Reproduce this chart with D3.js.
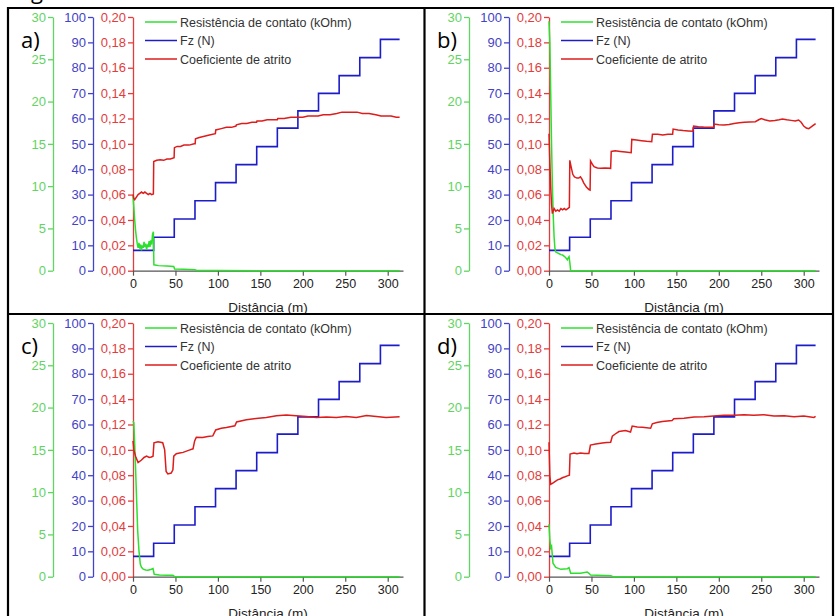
<!DOCTYPE html>
<html>
<head>
<meta charset="utf-8">
<script src="https://cdn.jsdelivr.net/npm/d3@7"></script>
<style>
body { margin: 0; background: #fff; }
svg { display: block; font-family: "Liberation Sans", Arial, sans-serif; }
</style>
</head>
<body>
<div id="plot"></div>
<script>
// Fz (N) steps, same for all four tests
var fzDist = [0, 24.3, 48.6, 73, 97.2, 121.4, 145.7, 170, 194.2, 218.5, 242.8, 267.1, 291.4, 314];
var fzForce = [8, 13.2, 20.4, 27.6, 34.7, 41.8, 48.9, 56.2, 63, 69.9, 76.9, 84, 91.2, 91.2];

var xTicks = [0, 50, 100, 150, 200, 250, 300];
var greenTicks = [0, 5, 10, 15, 20, 25, 30];
var blueTicks = [0, 10, 20, 30, 40, 50, 60, 70, 80, 90, 100];
var redTicks = [0, 0.02, 0.04, 0.06, 0.08, 0.10, 0.12, 0.14, 0.16, 0.18, 0.20];
var panelLabels = ["a)", "b)", "c)", "d)"];
var legendNames = ["Resistência de contato (kOhm)", "Fz (N)", "Coeficiente de atrito"];

// resistencia de contato (kOhm) [distancia, valor]
var resA = [[0,8.8],[1,7.5],[2,6.0],[3,4.8],[4,3.9],[5,3.2],[6,2.7],[7,3.3],[8,2.6],[9,3.1],[10,2.4],[11,3.0],[12,2.7],[13,3.4],[14,2.8],[15,3.2],[16,2.5],[17,3.0],[18,2.9],[19,3.5],[20,2.8],[21,3.6],[22,3.1],[23,4.3],[24,4.6],[24.6,0.7],[30,0.6],[40,0.55],[48,0.5],[49,0.2],[60,0.18],[73,0.12],[75,0.03],[100,0.02],[150,0],[314,0]];
var resB = [[0,29.5],[1,27],[2,21],[3,15],[4,10],[5,6.5],[6,4],[7,2.6],[8,2.2],[10,2.1],[12,2.0],[14,1.9],[16,1.85],[18,1.7],[20,1.5],[21.6,1.3],[22.5,1.5],[23.6,1.65],[24.5,1.0],[25.5,0],[314,0]];
var resC = [[0,18.4],[1,18.2],[2.7,13.8],[4,9.9],[5.5,5.5],[7,3.1],[8.6,1.5],[10,1.1],[12,0.9],[15,0.8],[17.7,0.76],[21.6,0.88],[23.6,0.96],[25,0.28],[31,0.2],[40,0.18],[47,0.16],[49,0],[314,0]];
var resD = [[0,6.2],[1,4.4],[2,3.4],[3,3.6],[4.7,1.6],[8,1.1],[14,0.87],[21.6,0.95],[23.6,1.07],[25.5,0.4],[37,0.4],[45,0.56],[47,0.4],[49,0.2],[73,0.12],[75,0],[314,0]];

// coeficiente de atrito [distancia, valor]
var cofA = [[0,0.060],[1,0.057],[2,0.056],[4,0.058],[6,0.060],[8,0.061],[10,0.062],[12,0.061],[14,0.062],[16,0.061],[18,0.060],[20,0.061],[22,0.060],[24,0.0605],[24.4,0.086],[28,0.087],[32,0.0875],[36,0.087],[40,0.088],[44,0.088],[48.4,0.089],[48.8,0.097],[52,0.098],[56,0.098],[60,0.099],[66,0.099],[72,0.100],[73.2,0.100],[73.6,0.104],[78,0.105],[84,0.106],[90,0.107],[97,0.108],[97.5,0.111],[104,0.112],[110,0.113],[116,0.113],[121.3,0.114],[121.8,0.115],[128,0.116],[134,0.116],[140,0.117],[145.6,0.117],[146,0.118],[152,0.118],[158,0.119],[164,0.119],[170,0.119],[170.5,0.120],[178,0.120],[186,0.121],[194,0.121],[200,0.121],[206,0.122],[212,0.122],[218,0.122],[224,0.123],[232,0.123],[240,0.124],[246,0.125],[252,0.125],[258,0.125],[264,0.125],[270,0.124],[278,0.124],[286,0.123],[292,0.122],[298,0.122],[304,0.122],[310,0.121],[314,0.121]];
var cofB = [[0,0.108],[1,0.085],[2,0.066],[3,0.052],[4,0.045],[5,0.047],[6,0.049],[8,0.047],[10,0.048],[12,0.047],[14,0.049],[16,0.048],[18,0.049],[20,0.048],[22,0.049],[24,0.050],[24.5,0.087],[26,0.082],[28,0.076],[30,0.074],[33,0.073],[35,0.073],[37,0.074],[39,0.072],[41,0.069],[44,0.066],[47,0.064],[48.4,0.0636],[48.9,0.0865],[51,0.084],[53,0.082],[57,0.081],[61,0.0807],[66,0.081],[72.6,0.0807],[73.3,0.094],[78,0.0945],[84,0.094],[90,0.0935],[96.8,0.093],[97.5,0.1035],[103,0.103],[109,0.1025],[115,0.102],[121,0.1017],[121.8,0.1075],[128,0.1075],[134,0.107],[140,0.1075],[145.6,0.1075],[146.2,0.1117],[152,0.111],[158,0.1105],[164,0.1102],[169.6,0.110],[170.3,0.114],[176,0.1135],[182,0.1132],[188,0.113],[194,0.113],[194.6,0.1156],[200,0.115],[206,0.1148],[212,0.1152],[218,0.116],[224,0.1167],[230,0.117],[236,0.1172],[243,0.1175],[247,0.119],[250,0.120],[254,0.119],[260,0.118],[266,0.1185],[271,0.119],[275,0.1196],[280,0.119],[285,0.1185],[290,0.118],[294,0.1188],[297,0.117],[300,0.114],[303,0.1125],[306,0.112],[310,0.114],[314,0.116]];
var cofC = [[0,0.107],[1,0.100],[3,0.095],[6,0.090],[10,0.092],[13,0.094],[16,0.095],[19,0.094],[21.6,0.0944],[23.6,0.095],[24.7,0.1056],[29.4,0.1064],[35,0.1056],[37.3,0.100],[39,0.083],[41,0.081],[45,0.0817],[47,0.0843],[48,0.095],[51,0.097],[55,0.0975],[59,0.098],[63,0.099],[67,0.100],[70.7,0.1008],[72.6,0.107],[74.6,0.110],[82,0.1098],[88,0.1105],[94,0.111],[97.4,0.1157],[104,0.117],[110,0.1176],[120,0.119],[122,0.122],[133.5,0.1237],[145,0.1247],[157,0.1255],[169,0.1269],[180.6,0.1274],[192,0.1269],[204,0.1263],[216,0.1255],[228,0.1258],[239.5,0.1255],[251,0.1263],[263,0.1255],[275,0.127],[286.6,0.1263],[298,0.1255],[314,0.126]];
var cofD = [[0,0.106],[1,0.0795],[2,0.0728],[4,0.0736],[7,0.075],[10,0.0763],[13,0.077],[15.7,0.078],[19,0.0788],[21.6,0.0795],[24,0.080],[24.8,0.0967],[29.4,0.0975],[33,0.097],[37,0.0975],[42,0.0972],[47,0.0972],[48.8,0.1038],[55,0.1046],[62.8,0.1054],[68,0.1058],[72.6,0.106],[74.6,0.1107],[78,0.1125],[82.4,0.1144],[90,0.1152],[96,0.114],[98,0.1187],[104,0.118],[110,0.1179],[119.7,0.1171],[121.7,0.1205],[127,0.1215],[133.5,0.1224],[145,0.1232],[147,0.1245],[159,0.125],[170.8,0.1258],[182.6,0.126],[194,0.1266],[206,0.1272],[218,0.1272],[229.7,0.1277],[241,0.1272],[253,0.1277],[265,0.1266],[277,0.1269],[288.6,0.1261],[300,0.1266],[312,0.1256],[314,0.1264]];

var panels = [
  { label: panelLabels[0], cx: 8, cy: 8, res: resA, cof: cofA },
  { label: panelLabels[1], cx: 424, cy: 8, res: resB, cof: cofB },
  { label: panelLabels[2], cx: 8, cy: 314, res: resC, cof: cofC },
  { label: panelLabels[3], cx: 424, cy: 314, res: resD, cof: cofD }
];

var green = "#2ee02e", greenAx = "#62d462";
var blue = "#1c1cc8", blueAx = "#4343c6";
var red = "#dd1c1c", redAx = "#e23c3c";

var W = 835, H = 616;
var svg = d3.select("#plot").append("svg")
  .attr("width", W)
  .attr("height", H);

svg.append("rect").attr("width", W).attr("height", H).attr("fill", "#fff");

// caption cut off at top
svg.append("text")
  .attr("x", 14).attr("y", -1)
  .style("font-family", "'Open Sans', sans-serif")
  .style("font-size", "22px")
  .text("Figura 29:");

var comma = function(v) { return d3.format(".2f")(v).replace(".", ","); };

function yAxis(g, scale, ticks, minors, xpos, col, fmt) {
  var ax = g.append("g").attr("transform", "translate(" + xpos + ",0)");
  ax.call(d3.axisLeft(scale).tickValues(minors).tickSize(3).tickSizeOuter(0).tickFormat(""));
  ax.call(d3.axisLeft(scale).tickValues(ticks).tickSize(5).tickSizeOuter(0).tickPadding(2).tickFormat(fmt));
  ax.selectAll("path, line").attr("stroke", col).attr("stroke-width", 1.3);
  ax.selectAll("text").attr("fill", col).style("font-size", "13px").style("font-family", "'Liberation Sans', Arial, sans-serif");
}

function MakeIt(p) {
  var g = svg.append("g").attr("transform", "translate(" + p.cx + "," + p.cy + ")");
  var top = 9, bot = 262.7;
  var x = d3.scaleLinear().domain([0, 318]).range([125, 395]);
  var yG = d3.scaleLinear().domain([0, 30]).range([bot, top]);
  var yB = d3.scaleLinear().domain([0, 100]).range([bot, top]);
  var yR = d3.scaleLinear().domain([0, 0.2]).range([bot, top]);

  yAxis(g, yG, greenTicks, [2.5, 7.5, 12.5, 17.5, 22.5, 27.5], 45, greenAx, d3.format("d"));
  yAxis(g, yB, blueTicks, [5, 15, 25, 35, 45, 55, 65, 75, 85, 95], 85, blueAx, d3.format("d"));
  yAxis(g, yR, redTicks, [0.01, 0.03, 0.05, 0.07, 0.09, 0.11, 0.13, 0.15, 0.17, 0.19], 125, redAx, comma);

  var xa = g.append("g").attr("transform", "translate(0," + bot + ")");
  xa.call(d3.axisBottom(x).tickValues([25, 75, 125, 175, 225, 275]).tickSize(3).tickSizeOuter(0).tickFormat(""));
  xa.call(d3.axisBottom(x).tickValues(xTicks).tickSize(5).tickSizeOuter(0).tickPadding(3));
  xa.selectAll("path, line").attr("stroke", "#555").attr("stroke-width", 1.2);
  xa.selectAll("text").attr("fill", "#222").style("font-size", "12.5px").style("font-family", "'Liberation Sans', Arial, sans-serif");

  g.append("text")
    .attr("x", 260).attr("y", 304)
    .attr("text-anchor", "middle")
    .attr("fill", "#222")
    .style("font-size", "13.5px")
    .text("Distância (m)");

  // Fz steps
  var fz = fzDist.map(function(d, i) { return [d, fzForce[i]]; });
  g.append("path")
    .datum(fz)
    .attr("fill", "none")
    .attr("stroke", blue)
    .attr("stroke-width", 1.6)
    .attr("d", d3.line().curve(d3.curveStepAfter).x(function(d) { return x(d[0]); }).y(function(d) { return yB(d[1]); }));

  g.append("path")
    .datum(p.res)
    .attr("fill", "none")
    .attr("stroke", green)
    .attr("stroke-width", 1.5)
    .attr("d", d3.line().x(function(d) { return x(d[0]); }).y(function(d) { return yG(d[1]); }));

  g.append("path")
    .datum(p.cof)
    .attr("fill", "none")
    .attr("stroke", red)
    .attr("stroke-width", 1.5)
    .attr("d", d3.line().x(function(d) { return x(d[0]); }).y(function(d) { return yR(d[1]); }));

  // legend
  var cols = [green, blue, red];
  var lg = g.append("g").attr("transform", "translate(137,14)");
  legendNames.forEach(function(n, i) {
    lg.append("line").attr("x1", 0).attr("x2", 32).attr("y1", i * 18.5).attr("y2", i * 18.5)
      .attr("stroke", cols[i]).attr("stroke-width", 1.5);
    lg.append("text").attr("x", 35).attr("y", i * 18.5 + 4.5)
      .attr("fill", "#333").style("font-size", "12.5px").text(n);
  });

  g.append("text")
    .attr("x", 13).attr("y", 40)
    .style("font-family", "'Open Sans', sans-serif")
    .style("font-size", "22px")
    .attr("fill", "#000")
    .text(p.label);
}

panels.forEach(MakeIt);

// table borders
var bl = [[8, 7, 8, 616], [424.5, 7, 424.5, 616], [833, 7, 833, 616], [7, 8, 834, 8], [7, 314, 834, 314]];
svg.selectAll("line.border")
  .data(bl)
  .enter()
  .append("line")
  .attr("class", "border")
  .attr("x1", function(d) { return d[0]; })
  .attr("y1", function(d) { return d[1]; })
  .attr("x2", function(d) { return d[2]; })
  .attr("y2", function(d) { return d[3]; })
  .attr("stroke", "#000")
  .attr("stroke-width", 2.2);
</script>
</body>
</html>
